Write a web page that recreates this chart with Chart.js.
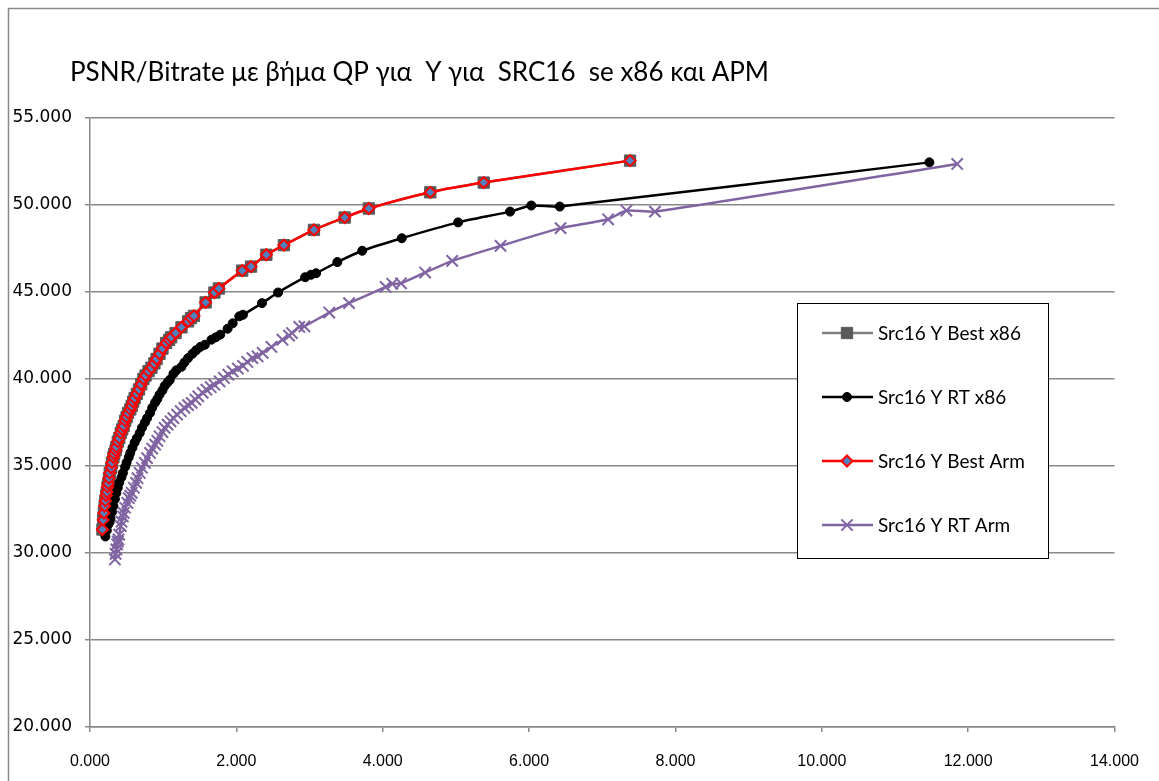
<!DOCTYPE html>
<html>
<head>
<meta charset="utf-8">
<script src="https://cdn.jsdelivr.net/npm/chart.js@4.4.0/dist/chart.umd.min.js"></script>
<style>
  html, body { margin: 0; padding: 0; background: #fff; }
</style>
</head>
<body>
<canvas id="myChart" width="1159" height="781"></canvas>
<script>
// bitrate (x) and PSNR (y) per series
const bestX = [0.17, 0.18, 0.19, 0.20, 0.21, 0.22, 0.23, 0.24, 0.25, 0.26, 0.27, 0.29, 0.30, 0.32, 0.33, 0.35, 0.36, 0.38, 0.40, 0.42, 0.44, 0.46, 0.48, 0.50, 0.52, 0.55, 0.57, 0.59, 0.61, 0.64, 0.67, 0.70, 0.73, 0.76, 0.80, 0.84, 0.88, 0.91, 0.95, 0.99, 1.04, 1.08, 1.11, 1.17, 1.25, 1.34, 1.38, 1.42, 1.58, 1.70, 1.76, 2.08, 2.20, 2.41, 2.65, 3.06, 3.48, 3.81, 4.65, 5.38, 7.38];
const bestY = [31.35, 31.9, 32.3, 32.7, 33.0, 33.3, 33.5, 33.8, 34.0, 34.3, 34.6, 34.9, 35.2, 35.5, 35.7, 35.9, 36.1, 36.4, 36.6, 36.9, 37.1, 37.3, 37.6, 37.8, 38.05, 38.25, 38.45, 38.7, 38.9, 39.15, 39.4, 39.7, 40.0, 40.2, 40.45, 40.65, 40.9, 41.15, 41.45, 41.75, 42.07, 42.25, 42.4, 42.64, 42.97, 43.31, 43.5, 43.63, 44.4, 44.97, 45.2, 46.23, 46.46, 47.14, 47.69, 48.57, 49.28, 49.80, 50.73, 51.29, 52.55];

const rtX86X = [0.21, 0.23, 0.25, 0.27, 0.28, 0.30, 0.32, 0.34, 0.36, 0.38, 0.40, 0.43, 0.45, 0.48, 0.50, 0.53, 0.55, 0.58, 0.61, 0.64, 0.68, 0.71, 0.75, 0.78, 0.82, 0.85, 0.89, 0.92, 0.95, 0.99, 1.02, 1.06, 1.09, 1.14, 1.18, 1.25, 1.29, 1.34, 1.40, 1.45, 1.51, 1.57, 1.66, 1.72, 1.78, 1.88, 1.95, 2.04, 2.09, 2.35, 2.57, 2.94, 3.02, 3.09, 3.38, 3.72, 4.26, 5.03, 5.74, 6.03, 6.42, 11.47];
const rtX86Y = [30.95, 31.3, 31.65, 31.8, 32.0, 32.35, 32.7, 33.1, 33.45, 33.75, 34.05, 34.35, 34.6, 34.95, 35.2, 35.5, 35.75, 36.05, 36.35, 36.6, 36.9, 37.2, 37.5, 37.75, 38.05, 38.35, 38.65, 38.85, 39.1, 39.35, 39.6, 39.8, 39.95, 40.3, 40.5, 40.7, 40.95, 41.2, 41.45, 41.65, 41.85, 41.97, 42.26, 42.4, 42.55, 42.89, 43.2, 43.6, 43.69, 44.36, 44.97, 45.85, 45.99, 46.08, 46.72, 47.37, 48.09, 49.0, 49.62, 49.97, 49.91, 52.45];

const rtArmX = [0.34, 0.35, 0.36, 0.37, 0.38, 0.39, 0.40, 0.42, 0.43, 0.45, 0.46, 0.48, 0.51, 0.53, 0.55, 0.57, 0.60, 0.63, 0.65, 0.68, 0.71, 0.75, 0.78, 0.82, 0.85, 0.89, 0.92, 0.95, 0.99, 1.02, 1.06, 1.10, 1.14, 1.19, 1.24, 1.29, 1.34, 1.39, 1.44, 1.48, 1.54, 1.59, 1.65, 1.70, 1.77, 1.83, 1.89, 1.95, 2.02, 2.09, 2.15, 2.22, 2.29, 2.36, 2.48, 2.63, 2.72, 2.76, 2.86, 2.93, 3.27, 3.54, 4.04, 4.13, 4.25, 4.58, 4.95, 5.61, 6.43, 7.08, 7.33, 7.72, 11.85];
const rtArmY = [29.63, 29.95, 30.21, 30.5, 30.65, 30.78, 31.05, 31.55, 31.8, 32.1, 32.31, 32.6, 32.88, 33.15, 33.3, 33.46, 33.75, 34.03, 34.3, 34.6, 34.9, 35.18, 35.45, 35.75, 36.0, 36.23, 36.45, 36.71, 36.95, 37.19, 37.38, 37.57, 37.75, 37.95, 38.15, 38.34, 38.5, 38.63, 38.82, 39.0, 39.2, 39.39, 39.53, 39.67, 39.87, 40.06, 40.25, 40.44, 40.6, 40.76, 40.98, 41.2, 41.3, 41.5, 41.84, 42.26, 42.49, 42.64, 42.99, 43.03, 43.82, 44.36, 45.29, 45.47, 45.5, 46.12, 46.79, 47.65, 48.67, 49.18, 49.68, 49.62, 52.36];

const seriesNames = ['Src16 Y Best x86', 'Src16 Y RT x86', 'Src16 Y Best Arm', 'Src16 Y RT Arm'];
const xTicks = [0, 2, 4, 6, 8, 10, 12, 14];
const yTicks = [20, 25, 30, 35, 40, 45, 50, 55];
const titleText = 'PSNR/Bitrate με βήμα QP για  Y για  SRC16  se x86 και APM';

const toPoints = (xs, ys) => xs.map((x, i) => ({ x: x, y: ys[i] }));

const GRID = '#888888';

// frame, title and the boxed legend inside the plot
const decor = {
  id: 'decor',
  beforeDraw(chart) {
    const c = chart.ctx;
    c.save();
    c.strokeStyle = GRID;
    c.lineWidth = 1.5;
    c.strokeRect(8.5, 8.5, 1170, 800);
    c.fillStyle = '#000';
    c.font = '26px Lato, "Noto Sans", sans-serif';
    c.textBaseline = 'middle';
    c.textAlign = 'left';
    c.fillText(titleText, 70, 73);
    c.restore();
  },
  afterDraw(chart) {
    const c = chart.ctx;
    const bx = 797, by = 303, bw = 251, bh = 255;
    c.save();
    c.fillStyle = '#fff';
    c.fillRect(bx, by, bw, bh);
    c.strokeStyle = '#000';
    c.lineWidth = 1;
    c.strokeRect(bx + 0.5, by + 0.5, bw, bh);
    chart.data.datasets.forEach((ds, i) => {
      const y = 333 + i * 64;
      c.strokeStyle = ds.borderColor;
      c.lineWidth = ds.borderWidth;
      c.beginPath();
      c.moveTo(822, y);
      c.lineTo(873, y);
      c.stroke();
      c.fillStyle = ds.pointBackgroundColor;
      c.strokeStyle = ds.pointBorderColor;
      c.lineWidth = ds.pointBorderWidth;
      Chart.helpers.drawPoint(c, { pointStyle: ds.pointStyle, radius: ds.pointRadius, rotation: 0, borderWidth: ds.pointBorderWidth }, 847, y);
      c.fillStyle = '#000';
      c.font = '19px Lato, "Noto Sans", sans-serif';
      c.textBaseline = 'middle';
      c.textAlign = 'left';
      c.fillText(seriesNames[i], 878, y + 1);
    });
    c.restore();
  }
};

const ctx = document.getElementById('myChart');

new Chart(ctx, {
  type: 'scatter',
  data: {
    datasets: [
      {
        label: seriesNames[0],
        data: toPoints(bestX, bestY),
        showLine: true,
        borderColor: '#7f7f7f',
        borderWidth: 2.5,
        pointStyle: 'rect',
        pointRadius: 8,
        pointBackgroundColor: '#595959',
        pointBorderColor: '#595959',
        pointBorderWidth: 1,
        order: 4
      },
      {
        label: seriesNames[1],
        data: toPoints(rtX86X, rtX86Y),
        showLine: true,
        borderColor: '#000000',
        borderWidth: 2.5,
        pointStyle: 'circle',
        pointRadius: 4.5,
        pointBackgroundColor: '#000000',
        pointBorderColor: '#000000',
        pointBorderWidth: 1,
        order: 3
      },
      {
        label: seriesNames[2],
        data: toPoints(bestX, bestY),
        showLine: true,
        borderColor: '#ff0000',
        borderWidth: 2.5,
        pointStyle: 'rectRot',
        pointRadius: 5.5,
        pointBackgroundColor: '#4f81bd',
        pointBorderColor: '#ff0000',
        pointBorderWidth: 2,
        order: 2
      },
      {
        label: seriesNames[3],
        data: toPoints(rtArmX, rtArmY),
        showLine: true,
        borderColor: '#8064a2',
        borderWidth: 2.5,
        pointStyle: 'crossRot',
        pointRadius: 8,
        pointBackgroundColor: '#8064a2',
        pointBorderColor: '#8064a2',
        pointBorderWidth: 2,
        order: 1
      }
    ]
  },
  options: {
    responsive: false,
    animation: false,
    layout: { padding: { top: 118, right: 43, bottom: 0, left: 0 } },
    plugins: {
      legend: { display: false },
      title: { display: false },
      tooltip: { enabled: false }
    },
    elements: { line: { tension: 0.2 } },
    scales: {
      x: {
        type: 'linear',
        min: xTicks[0],
        max: xTicks[xTicks.length - 1],
        afterBuildTicks: s => { s.ticks = xTicks.map(v => ({ value: v })); },
        afterFit: s => { s.height = 54; },
        border: { color: GRID, width: 1.5 },
        grid: { drawOnChartArea: false, drawTicks: true, tickLength: 5, color: GRID, lineWidth: 1.5 },
        ticks: {
          color: '#000',
          font: { family: '"Liberation Sans", sans-serif', size: 16 },
          padding: 20,
          callback: v => v.toFixed(3)
        }
      },
      y: {
        type: 'linear',
        min: yTicks[0],
        max: yTicks[yTicks.length - 1],
        afterBuildTicks: s => { s.ticks = yTicks.map(v => ({ value: v })); },
        afterFit: s => { s.width = 90; },
        border: { color: GRID, width: 1.5 },
        grid: { drawTicks: true, tickLength: 5, color: GRID, lineWidth: 1.5 },
        ticks: {
          color: '#000',
          font: { family: '"DejaVu Sans", sans-serif', size: 17 },
          padding: 13,
          callback: v => v.toFixed(3)
        }
      }
    }
  },
  plugins: [decor]
});
</script>
</body>
</html>
